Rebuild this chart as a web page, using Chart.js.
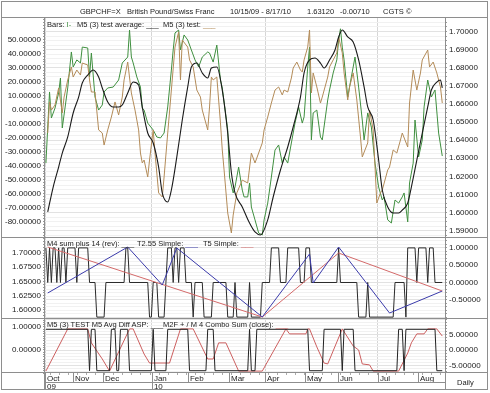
<!DOCTYPE html>
<html>
<head>
<meta charset="utf-8">
<script src="https://cdn.jsdelivr.net/npm/chart.js@4.4.1/dist/chart.umd.min.js"></script>
<style>
  html, body { margin:0; padding:0; background:#fff; }
  #page { position:relative; width:490px; height:393px; overflow:hidden; font-family:"Liberation Sans", Arial, sans-serif; color:#222; }
  canvas { position:absolute; }
  .ln { position:absolute; background:#8e8e8e; }
  .t { position:absolute; font-size:7.5px; line-height:9px; white-space:pre; }
</style>
</head>
<body>
<div id="page">
  <canvas id="cTop" width="486" height="220" style="left:2px;top:18px"></canvas>
  <canvas id="cMid" width="486" height="81" style="left:2px;top:238px"></canvas>
  <canvas id="cBot" width="486" height="71" style="left:2px;top:319px"></canvas>

  <div class="ln" style="left:1px;top:1px;width:487px;height:1px"></div>
  <div class="ln" style="left:1px;top:389px;width:487px;height:1px"></div>
  <div class="ln" style="left:1px;top:1px;width:1px;height:389px"></div>
  <div class="ln" style="left:487px;top:1px;width:1px;height:389px"></div>
  <div class="ln" style="left:1px;top:17px;width:487px;height:1px"></div>
  <div class="ln" style="left:1px;top:237px;width:487px;height:1px"></div>
  <div class="ln" style="left:1px;top:318px;width:487px;height:1px"></div>
  <div class="ln" style="left:1px;top:372px;width:487px;height:1px"></div>
  <div class="ln" style="left:45px;top:382px;width:400px;height:1px"></div>
  <div class="ln" style="left:44px;top:17px;width:1px;height:373px"></div>
  <div class="ln" style="left:445px;top:17px;width:1px;height:373px"></div>

  <div class="t" style="left:80px;top:7px">GBPCHF=X</div>
  <div class="t" style="left:127px;top:7px">British Pound/Swiss Franc</div>
  <div class="t" style="left:230px;top:7px">10/15/09 - 8/17/10</div>
  <div class="t" style="left:307px;top:7px">1.63120</div>
  <div class="t" style="left:340px;top:7px">-0.00710</div>
  <div class="t" style="left:383px;top:7px">CGTS &copy;</div>

  <div class="t" style="left:47px;top:20px">Bars: <span style="color:#3f8f3f">I-</span></div>
  <div class="t" style="left:77px;top:20px">M5 (3) test average: <span style="color:#1a1a1a">___</span></div>
  <div class="t" style="left:163px;top:20px">M5 (3) test: <span style="color:#b38b58">___</span></div>

  <div class="t" style="left:47px;top:239px">M4 sum plus 14 (rev): <span style="color:#2a2a2a">___</span></div>
  <div class="t" style="left:137px;top:239px">T2.55 Simple: <span style="color:#3a3aaa">___</span></div>
  <div class="t" style="left:203px;top:239px">T5 Simple: <span style="color:#d46a6a">___</span></div>

  <div class="t" style="left:47px;top:320px">M5 (3) TEST M5 Avg Diff ASP: <span style="color:#222">___</span></div>
  <div class="t" style="left:163px;top:320px">M2F + / M 4 Combo Sum (close): <span style="color:#cc5f5f">___</span></div>

  <div class="t" style="left:457px;top:378px">Daily</div>
</div>

<script>
// trading-day index 0 = 10/15/09
var monthNames = ['Oct','Nov','Dec','Jan','Feb','Mar','Apr','May','Jun','Jul','Aug'];
var monthStart = [-0.5, 14.9, 31.4, 58.3, 78.1, 100.7, 120.5, 142.5, 160.6, 182.6, 204.6];
var yearLabels = ['09','','','10','','','','','','',''];
var quarterMonths = ['Oct','Jan','Apr','Jul'];

// top panel: price (right axis)
var priceDay = [0,2,3,5,7,8,9,12,14,15,17,19,20,23,24,25,27,29,31,32,34,37,40,42,45,46,47,48,50,52,53,54,56,59,61,63,65,67,69,70,71,73,74,76,78,80,82,84,86,89,90,92,94,96,97,100,101,103,104,106,108,109,111,112,113,115,117,119,120,122,124,126,128,130,131,133,135,137,139,141,142,144,145,146,147,149,151,152,155,156,158,160,161,162,163,164,166,168,170,172,174,175,177,179,181,183,185,186,188,190,192,194,196,197,199,200,202,203,205,207,208,210,212,214,216,218];
var priceVal = [1.6273,1.6666,1.6522,1.6577,1.6660,1.6743,1.6467,1.6688,1.6887,1.6804,
  1.6843,1.6826,1.6914,1.6909,1.6749,1.6881,1.6638,1.6566,1.6594,1.6666,
  1.6688,1.6693,1.6732,1.6826,1.6859,1.7008,1.6859,1.6826,1.6749,1.6693,
  1.6577,1.6566,1.6494,1.6456,1.6417,1.6412,1.6439,1.6583,1.6787,1.6898,
  1.6992,1.7008,1.6898,1.6981,1.6953,1.6898,1.6843,1.6804,1.6859,1.6887,
  1.6881,1.6831,1.6925,1.6732,1.6688,1.6456,1.6196,1.6108,1.6141,1.6251,
  1.6124,1.6086,1.6086,1.6163,1.6030,1.5959,1.5887,1.5876,1.5959,1.6052,
  1.6196,1.6345,1.6373,1.6273,1.6307,1.6273,1.6384,1.6494,1.6583,1.6494,
  1.6528,1.6804,1.6914,1.6401,1.6550,1.6566,1.6417,1.6401,1.6622,1.6677,
  1.6771,1.6843,1.6953,1.7015,1.6914,1.6843,1.6638,1.6749,1.6859,1.6693,
  1.6511,1.6401,1.6550,1.6472,1.6273,1.6141,1.6069,1.6086,1.5959,1.5942,
  1.6069,1.6052,1.6086,1.6108,1.5948,1.6163,1.6273,1.6511,1.6307,1.6401,
  1.6583,1.6732,1.6638,1.6677,1.6439,1.6312];

// top panel: M5 (3) test (left axis)
var testDay = [1,2,3,5,7,9,10,12,14,15,17,19,20,23,24,25,27,29,31,32,34,36,38,40,42,43,45,47,49,51,52,53,54,56,57,59,60,62,64,65,67,69,71,73,74,75,78,79,81,83,85,86,89,90,91,92,94,96,97,98,100,102,103,105,108,111,113,115,117,119,120,122,124,126,128,130,131,133,135,136,138,140,141,142,144,145,146,147,149,151,152,155,156,158,160,161,163,164,166,167,169,171,173,174,177,178,180,182,184,185,188,189,191,193,195,196,199,200,202,204,206,207,210,211,213,215,217,218];
var testVal = [-16.8,5.4,-0.4,3.2,15.4,-2.5,8.9,21.1,30.4,23.2,
  28.2,24.6,33.2,31.8,21.1,12.5,12.5,-14.6,-16.8,-25.4,
  -14.6,-5.4,5.4,-3.9,8.9,21.1,33.9,11.8,-0.4,-14.6,
  -31.1,-38.2,-36.1,-48.2,-36.1,-14.6,-31.1,-59.6,-62.5,-48.2,
  -16.8,13.9,44.6,55.4,21.1,49.6,44.6,35.4,30.4,13.9,
  8.9,-0.4,-14.6,1.8,23.2,21.1,23.2,-9.6,-28.9,-43.2,
  -73.9,-88.2,-75.4,-59.6,-50.4,-52.5,-31.1,-38.2,-31.1,-23.9,
  -14.6,-5.4,4.6,13.9,16.1,10.4,13.9,12.5,22.5,29.6,
  33.9,28.2,26.8,35.4,44.6,56.8,11.8,26.1,16.1,4.6,
  8.9,23.2,30.4,35.4,40.4,51.8,40.4,26.1,6.8,16.1,
  26.1,6.8,-19.6,-33.9,-23.9,-0.4,-14.6,-66.8,-59.6,-57.5,
  -43.2,-41.1,-28.9,-31.1,-21.8,-16.8,-26.8,4.6,28.2,13.9,
  26.1,35.4,42.5,30.4,33.9,26.1,16.1,4.6];

// top panel: M5 (3) test average (left axis)
var avgDay = [1,4,7,9,12,15,18,20,23,26,29,31,34,37,40,42,45,48,51,53,56,59,62,64,67,69,72,75,78,80,83,86,89,91,94,97,100,102,104,108,112,115,118,122,125,129,133,136,140,142,145,148,151,153,156,159,161,163,166,169,172,175,177,180,183,185,188,191,194,196,199,201,204,207,210,212,215,217,218];
var avgVal = [-73.2,-55.4,-41.1,-31.1,-19.6,-2.5,8.9,18.9,24.6,28.2,
  23.2,15.4,5.4,1.8,1.8,3.2,11.8,19.6,17.5,1.8,
  -16.8,-23.9,-41.1,-59.6,-66.1,-57.5,-33.9,-7.5,16.1,30.4,
  33.2,26.1,22.5,29.6,30.4,13.9,-16.8,-45.0,-59.6,-69.6,
  -81.1,-87.5,-89.6,-78.9,-62.5,-43.2,-26.8,-12.5,8.9,26.1,
  35.4,36.8,33.2,29.6,35.4,42.5,51.8,56.8,51.8,48.2,
  35.4,16.1,1.8,-7.5,-36.1,-57.5,-69.6,-73.9,-73.9,-71.8,
  -66.8,-55.4,-36.1,-16.8,1.8,13.9,19.6,21.1,15.4];

// middle panel
var m4Day = [0,1,2,3,4,5,6,7,8,9,10,11,12,16,17,18,23,24,27,28,32,33,43,44,45,46,56,57,58,59,61,62,65,66,67,69,70,71,72,73,74,76,77,80,81,82,86,87,91,92,99,100,103,104,105,111,112,113,118,119,123,124,128,129,132,133,139,140,142,143,145,146,160,161,162,171,172,176,177,178,191,192,197,198,199,203,204,205,209,210,211,213,214,218];
var m4Val = [1,0,1,0,1,1,0,1,0,1,1,0,1,1,0,1,1,0,0,-1,-1,0,0,1,1,0,0,-1,-1,0,0,-1,-1,0,1,1,0,1,1,0,1,1,0,0,-1,0,0,-1,-1,0,0,-1,-1,0,-1,-1,0,-1,-1,0,0,1,1,0,0,1,1,0,0,1,1,0,0,1,0,0,-1,-1,0,-1,-1,0,0,-1,1,1,0,1,1,0,1,1,0,0];
var t255Day = [1,45,64,72,119,145,147,161,189,218];
var t255Val = [1.6298,1.7105,1.6439,1.7088,1.5877,1.6982,1.6474,1.7105,1.5947,1.6333];
var t5Day = [1,119,161,218];
var t5Val = [1.7105,1.5877,1.7000,1.6333];

// bottom panel
var aspDay = [0,23,24,25,27,28,35,36,38,39,40,41,45,46,58,59,60,66,67,78,79,88,89,92,93,111,112,113,115,116,144,145,152,153,162,163,164,169,170,193,194,196,197,198,214,215,218];
var aspVal = [0.9,0.9,-0.9,0.9,0.9,-0.9,-0.9,0.9,0.9,-0.9,-0.9,0.9,0.9,-0.9,-0.9,0.9,-0.9,-0.9,0.9,0.9,-0.9,-0.9,0.9,0.9,-0.9,-0.9,0.9,-0.9,-0.9,0.9,0.9,-0.9,-0.9,0.9,0.9,-0.9,0.9,0.9,-0.9,-0.9,0.9,0.9,-0.9,0.9,0.9,-0.9,-0.9];
var comboDay = [0,12,23,25,31,35,46,48,54,57,68,74,81,89,92,95,99,106,119,132,134,143,144,145,149,153,155,163,169,172,174,178,180,194,199,201,204,208,210,215,218];
var comboVal = [-6.8,6.8,6.8,2.3,-2.9,-6.8,6.8,6.8,-1.3,-4.2,-4.2,6.8,6.8,-2.9,-2.9,2.3,2.3,-6.8,-6.8,6.8,5.2,5.2,6.8,6.8,1.0,-4.2,-4.5,6.8,1.3,0,-4.5,-4.8,-6.8,-6.8,-1.0,2.3,5.2,5.2,6.8,6.8,4.5];

Chart.defaults.font.family = '"Liberation Sans", Arial, sans-serif';
Chart.defaults.font.size = 8;
Chart.defaults.color = '#222';

function pts(days, vals) {
    return days.map(function (d, i) { return {x: d, y: vals[i]}; });
}

function labelEvery(step, lo, hi) {
    return function (v) {
        var k = Math.round(v / step);
        if (Math.abs(v - k * step) > step * 1e-4) return '';
        var q = k * step;
        if (q < lo - step * 1e-4 || q > hi + step * 1e-4) return '';
        return q.toFixed(5);
    };
}

function isMajor(step) {
    return function (ctx) {
        var v = ctx.tick ? ctx.tick.value : 0;
        return Math.abs(v - Math.round(v / step) * step) < step * 1e-4;
    };
}

function yAxis(pos, min, max, step, major, lo, hi, gridOn) {
    var maj = isMajor(major);
    return {
        position: pos, min: min, max: max,
        afterFit: function (s) { s.width = 43; s.paddingTop = 0; s.paddingBottom = 0; },
        ticks: {stepSize: step, autoSkip: false, includeBounds: false, maxTicksLimit: 1000,
                padding: 2, callback: labelEvery(major, lo, hi)},
        grid: {drawOnChartArea: gridOn, tickLength: 2, tickColor: '#999',
               color: function (ctx) { return maj(ctx) ? '#e2e2e2' : '#f1f1f1'; }},
        border: {display: false}
    };
}

function xAxis(ticksList, bottom) {
    return {
        type: 'linear', min: -0.5, max: 219.5,
        afterBuildTicks: function (s) {
            s.ticks = ticksList.map(function (v) { return {value: v}; });
        },
        afterFit: function (s) {
            s.height = bottom ? 17 : 0;
            s.paddingLeft = 0; s.paddingRight = 0;
        },
        ticks: bottom ? {
            display: true, autoSkip: false, maxRotation: 0, align: 'start', padding: 1, labelOffset: 2,
            font: {size: 8, lineHeight: 1.1},
            callback: function (v, i) { return [monthNames[i], yearLabels[i]]; }
        } : {display: false},
        grid: {
            drawTicks: false,
            color: function (ctx) {
                if (!bottom) return '#d6d6d6';
                var i = ctx.index;
                return quarterMonths.indexOf(monthNames[i]) >= 0 ? '#d6d6d6' : 'rgba(0,0,0,0)';
            }
        },
        border: {display: false}
    };
}

var quarterStart = monthStart.filter(function (v, i) { return quarterMonths.indexOf(monthNames[i]) >= 0; });

var dateRow = {
    id: 'dateRow',
    afterDraw: function (chart) {
        var s = chart.scales.x, ctx = chart.ctx, top = chart.chartArea.bottom;
        ctx.save();
        ctx.strokeStyle = '#8e8e8e';
        ctx.lineWidth = 1;
        monthStart.forEach(function (v, i) {
            var x = Math.round(s.getPixelForValue(v)) + 0.5;
            ctx.beginPath();
            ctx.moveTo(x, top);
            ctx.lineTo(x, top + (yearLabels[i] ? 17 : 10));
            ctx.stroke();
        });
        ctx.strokeStyle = '#aaa';
        for (var d = 2; d < 219; d += 5) {
            var x = Math.round(s.getPixelForValue(d)) + 0.5;
            ctx.beginPath();
            ctx.moveTo(x, top);
            ctx.lineTo(x, top + 2);
            ctx.stroke();
        }
        ctx.restore();
    }
};

function baseOptions(scales) {
    return {
        responsive: false, animation: false, events: [],
        layout: {padding: 0},
        plugins: {legend: {display: false}, tooltip: {enabled: false}},
        elements: {point: {radius: 0}, line: {borderWidth: 1, tension: 0}},
        scales: scales
    };
}

new Chart(document.getElementById('cTop'), {
    type: 'line',
    data: {datasets: [
        {data: pts(avgDay, avgVal), yAxisID: 'yL', borderColor: '#1a1a1a', borderWidth: 1.1,
         cubicInterpolationMode: 'monotone'},
        {data: pts(testDay, testVal), yAxisID: 'yL', borderColor: '#b38b58'},
        {data: pts(priceDay, priceVal), yAxisID: 'yR', borderColor: '#3f8f3f'}
    ]},
    options: baseOptions({
        x: xAxis(quarterStart, false),
        yL: yAxis('left', -91.79, 65.36, 2, 10, -80, 50, false),
        yR: yAxis('right', 1.58591, 1.70746, 0.0025, 0.01, 1.59, 1.70, true)
    })
});

new Chart(document.getElementById('cMid'), {
    type: 'line',
    data: {datasets: [
        {data: pts(t255Day, t255Val), yAxisID: 'yL', borderColor: '#3a3aaa'},
        {data: pts(t5Day, t5Val), yAxisID: 'yL', borderColor: '#d46a6a'},
        {data: pts(m4Day, m4Val), yAxisID: 'yR', borderColor: '#2a2a2a'}
    ]},
    options: baseOptions({
        x: xAxis(quarterStart, false),
        yL: yAxis('left', 1.58421, 1.72632, 0.005, 0.025, 1.60, 1.70, false),
        yR: yAxis('right', -1.0549, 1.2861, 0.1, 0.5, -0.5, 1.0, true)
    })
});

new Chart(document.getElementById('cBot'), {
    type: 'line',
    data: {datasets: [
        {data: pts(aspDay, aspVal), yAxisID: 'yL', borderColor: '#222'},
        {data: pts(comboDay, comboVal), yAxisID: 'yR', borderColor: '#cc5f5f'}
    ]},
    options: baseOptions({
        x: xAxis(monthStart, true),
        yL: yAxis('left', -1.0, 1.3478, 0.1, 1, 0, 1, false),
        yR: yAxis('right', -7.419, 10.0, 1, 5, -5, 5, true)
    }),
    plugins: [dateRow]
});
</script>
</body>
</html>
